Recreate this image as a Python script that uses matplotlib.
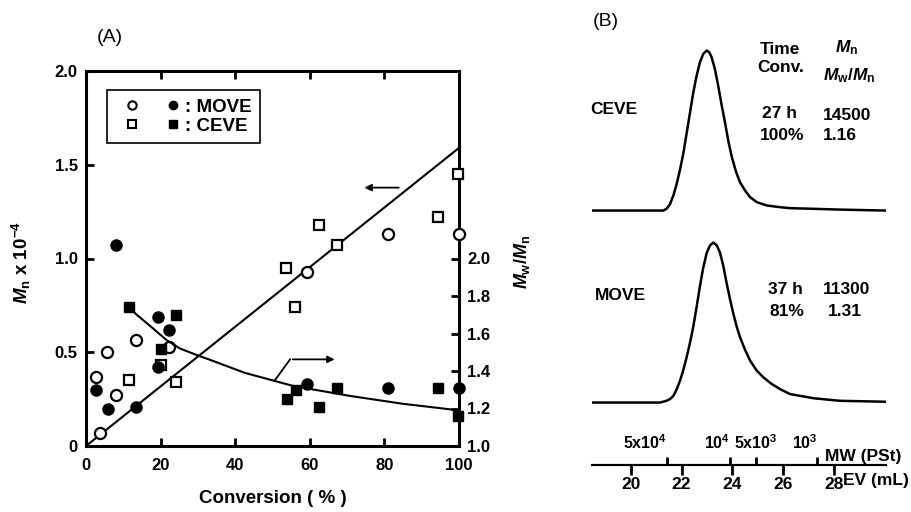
import numpy as np
import matplotlib.pyplot as plt
from matplotlib.legend_handler import HandlerTuple
from matplotlib.lines import Line2D

plt.rcParams['font.family'] = ['Liberation Sans', 'DejaVu Sans']
plt.rcParams['font.weight'] = 'bold'
plt.rcParams['axes.labelweight'] = 'bold'
plt.rcParams['mathtext.fontset'] = 'custom'
plt.rcParams['mathtext.rm'] = 'Liberation Sans:bold'
plt.rcParams['mathtext.it'] = 'Liberation Sans:italic:bold'
plt.rcParams['mathtext.bf'] = 'Liberation Sans:bold'

# ---- (A) Mn and Mw/Mn vs conversion ----
move_conv_mn = [3.7, 2.6, 5.7, 8.0, 13.3, 22.2, 59.2, 80.9, 100]
move_mn = [0.07, 0.37, 0.50, 0.27, 0.565, 0.53, 0.93, 1.13, 1.13]
ceve_conv_mn = [11.5, 20.1, 24.2, 53.6, 56.0, 62.5, 67.4, 94.5, 99.8]
ceve_mn = [0.35, 0.43, 0.34, 0.95, 0.74, 1.18, 1.07, 1.22, 1.45]

move_conv_pdi = [2.6, 5.8, 8.0, 13.3, 19.4, 19.2, 22.3, 59.3, 81.0, 100]
move_pdi = [1.30, 1.20, 2.07, 1.21, 1.69, 1.42, 1.62, 1.33, 1.31, 1.31]
ceve_conv_pdi = [11.5, 20.1, 24.0, 53.8, 56.2, 62.5, 67.4, 94.5, 99.8]
ceve_pdi = [1.74, 1.52, 1.70, 1.25, 1.30, 1.21, 1.31, 1.31, 1.16]

# calculated lines
theo_conv = [0, 100]
theo_mn = [0, 1.59]
pdi_line_conv = [11.5, 13.6, 17.2, 21.6, 25.2, 29.7, 33.2, 42.6, 55.6, 70.8, 85, 100]
pdi_line = [1.74, 1.70, 1.64, 1.565, 1.52, 1.485, 1.46, 1.39, 1.32, 1.267, 1.225, 1.19]

# arrows pointing to the axes
arrow_mn = [(84.6, 1.378), (73.9, 1.378)]
arrow_pdi = [(50.7, 1.352), (54.7, 1.462), (67.4, 1.462)]

# ---- (B) GPC traces (elution volume, normalised RI response) ----
ceve_ev = [18.47, 20.37, 21.28, 21.41, 21.54, 21.68, 21.81, 21.94, 22.07, 22.20,
           22.33, 22.46, 22.59, 22.72, 22.85, 22.99, 23.09, 23.18, 23.31, 23.44,
           23.57, 23.71, 23.84, 23.97, 24.14, 24.29, 24.49, 24.69, 24.95, 25.34,
           25.87, 26.26, 27.18, 28.22, 30.03]
ceve_int = [0, 0, 0, 0.011, 0.038, 0.095, 0.168, 0.257, 0.358, 0.484,
            0.611, 0.737, 0.842, 0.926, 0.979, 1.0, 0.989, 0.958, 0.884, 0.779,
            0.663, 0.547, 0.432, 0.337, 0.242, 0.179, 0.126, 0.084, 0.053, 0.032,
            0.021, 0.015, 0.011, 0.006, 0.0]
move_ev = [18.47, 20.37, 21.15, 21.41, 21.54, 21.68, 21.81, 21.94, 22.07, 22.20,
           22.33, 22.46, 22.59, 22.72, 22.85, 22.99, 23.12, 23.25, 23.38, 23.51,
           23.64, 23.77, 23.90, 24.03, 24.16, 24.29, 24.49, 24.69, 24.95, 25.21,
           25.54, 25.87, 26.26, 26.65, 27.18, 27.57, 28.22, 30.03]
move_int = [0, 0, 0, 0.011, 0.021, 0.042, 0.084, 0.137, 0.204, 0.284,
            0.373, 0.474, 0.596, 0.726, 0.842, 0.937, 0.983, 1.0, 0.983, 0.937,
            0.853, 0.747, 0.648, 0.558, 0.478, 0.411, 0.331, 0.263, 0.2, 0.158,
            0.116, 0.084, 0.053, 0.042, 0.027, 0.021, 0.011, 0.005]

ev_ticks = [20, 22, 24, 26, 28]
mw_ev = [21.44, 23.90, 24.92, 27.33]
mw_labels = [r'5x10$^{4}$', r'10$^{4}$', r'5x10$^{3}$', r'10$^{3}$']


def fpos(x, y):
    # pixel position in the 912x512 canvas -> figure fraction
    return x / 912, 1 - y / 512


fig = plt.figure(figsize=(9.12, 5.12), dpi=100)

ax = fig.add_axes([86 / 912, 66 / 512, 373 / 912, 375 / 512])
ax.plot(theo_conv, theo_mn, color='k', lw=1.5)
ax.plot(move_conv_mn, move_mn, 'o', mfc='white', mec='k', mew=1.6, ms=8,
        clip_on=False, zorder=3)
ax.plot(ceve_conv_mn, ceve_mn, 's', mfc='white', mec='k', mew=1.6, ms=7.5,
        clip_on=False, zorder=3)
ax.annotate('', xy=arrow_mn[1], xytext=arrow_mn[0],
            arrowprops=dict(arrowstyle='-|>', color='k', lw=1.3, mutation_scale=10))
ax.set_xlim(0, 100)
ax.set_ylim(0, 2)
ax.set_xticks([0, 20, 40, 60, 80, 100])
ax.set_yticks([0, 0.5, 1.0, 1.5, 2.0])
ax.set_yticklabels(['0', '0.5', '1.0', '1.5', '2.0'])
ax.tick_params(direction='in', length=6, width=2, labelsize=12, top=True)
ax.tick_params(axis='x', pad=9)
ax.tick_params(axis='y', pad=6)
for s in ax.spines.values():
    s.set_linewidth(2.2)
ax.set_xlabel('Conversion ( % )', fontsize=13.5, labelpad=12)
ax.set_ylabel(r'$M_{\rm n}$ x 10$^{-4}$', fontsize=13.5)
ax.yaxis.set_label_coords(-0.142, 0.49)

ax2 = ax.twinx()
for s in ax2.spines.values():
    s.set_visible(False)
ax2.plot(pdi_line_conv, pdi_line, color='k', lw=1.5)
ax2.plot(move_conv_pdi, move_pdi, 'o', color='k', ms=8, clip_on=False, zorder=3)
ax2.plot(ceve_conv_pdi, ceve_pdi, 's', color='k', ms=7.5, clip_on=False, zorder=3)
ax2.plot([p[0] for p in arrow_pdi[:2]], [p[1] for p in arrow_pdi[:2]], color='k', lw=1.3)
ax2.annotate('', xy=arrow_pdi[2], xytext=arrow_pdi[1],
             arrowprops=dict(arrowstyle='-|>', color='k', lw=1.3, mutation_scale=10))
ax2.set_ylim(1, 3)
ax2.set_yticks([1.0, 1.2, 1.4, 1.6, 1.8, 2.0])
ax2.set_yticklabels(['1.0', '1.2', '1.4', '1.6', '1.8', '2.0'])
ax2.tick_params(direction='in', length=6, width=2, labelsize=12, pad=6)
ax2.set_ylabel(r'$M_{\rm w}/M_{\rm n}$', fontsize=13, rotation=90)
ax2.yaxis.set_label_coords(1.142, 0.49)

h_oc = Line2D([], [], marker='o', ls='', mfc='white', mec='k', mew=1.5, ms=6)
h_fc = Line2D([], [], marker='o', ls='', color='k', ms=6)
h_os = Line2D([], [], marker='s', ls='', mfc='white', mec='k', mew=1.5, ms=5.5)
h_fs = Line2D([], [], marker='s', ls='', color='k', ms=5.5)
leg = ax2.legend([(h_oc, h_fc), (h_os, h_fs)], [': MOVE', ': CEVE'],
                 handler_map={tuple: HandlerTuple(ndivide=None, pad=0.32)},
                 loc='upper left', bbox_to_anchor=(0.055, 0.949), borderaxespad=0,
                 fancybox=False, edgecolor='k', framealpha=1, fontsize=13.5,
                 handlelength=4.05, handletextpad=-0.34, borderpad=0.45,
                 labelspacing=0.1)
leg.get_frame().set_linewidth(1.2)

fig.text(*fpos(109.5, 37), '(A)', ha='center', va='center', fontsize=14,
         fontweight='normal')

# ---- (B) ----
axb = fig.add_axes([591.7 / 912, 0, 294.3 / 912, 1])
axb.patch.set_visible(False)
axb.set_xlim(18.47, 30.03)
axb.set_ylim(-0.294, 2.906)
axb.plot(ceve_ev, np.array(ceve_int) + 1.59, color='k', lw=1.8,
         solid_joinstyle='round')
axb.plot(move_ev, np.array(move_int) + 0.39, color='k', lw=1.8,
         solid_joinstyle='round')
for side in ['left', 'right', 'top']:
    axb.spines[side].set_visible(False)
axb.spines['bottom'].set_position(('data', 0))
axb.spines['bottom'].set_linewidth(1.5)
axb.set_yticks([])
axb.set_xticks(ev_ticks)
axb.tick_params(axis='x', direction='out', length=7, width=2, labelsize=12.5, pad=2)

axmw = axb.twiny()
axmw.patch.set_visible(False)
axmw.set_xlim(axb.get_xlim())
for side in ['left', 'right', 'bottom']:
    axmw.spines[side].set_visible(False)
axmw.spines['top'].set_position(('data', 0))
axmw.spines['top'].set_linewidth(1.5)
axmw.set_xticks(mw_ev)
axmw.set_xticklabels(mw_labels)
axmw.tick_params(axis='x', direction='out', length=6, width=2, labelsize=11.5, pad=3)
for lbl, ha in zip(axmw.get_xticklabels(), ['right', 'right', 'center', 'right']):
    lbl.set_ha(ha)

fs_b = 12.5
fig.text(*fpos(606, 21), '(B)', ha='center', va='center', fontsize=14,
         fontweight='normal')
fig.text(*fpos(780, 49), 'Time', ha='center', va='center', fontsize=fs_b)
fig.text(*fpos(781, 67), 'Conv.', ha='center', va='center', fontsize=fs_b)
fig.text(*fpos(847, 48), r'$M_{\rm n}$', ha='center', va='center', fontsize=fs_b)
fig.text(*fpos(849, 76), r'$M_{\rm w}/M_{\rm n}$', ha='center', va='center', fontsize=fs_b)
fig.text(*fpos(590, 110), 'CEVE', ha='left', va='center', fontsize=fs_b)
fig.text(*fpos(780, 113), '27 h', ha='center', va='center', fontsize=fs_b)
fig.text(*fpos(782, 135), '100%', ha='center', va='center', fontsize=fs_b)
fig.text(*fpos(847, 115), '14500', ha='center', va='center', fontsize=fs_b)
fig.text(*fpos(840, 136), '1.16', ha='center', va='center', fontsize=fs_b)
fig.text(*fpos(595, 296), 'MOVE', ha='left', va='center', fontsize=fs_b)
fig.text(*fpos(785, 290), '37 h', ha='center', va='center', fontsize=fs_b)
fig.text(*fpos(787, 311), '81%', ha='center', va='center', fontsize=fs_b)
fig.text(*fpos(847, 290), '11300', ha='center', va='center', fontsize=fs_b)
fig.text(*fpos(845, 311), '1.31', ha='center', va='center', fontsize=fs_b)
fig.text(*fpos(825, 456), 'MW (PSt)', ha='left', va='center', fontsize=fs_b)
fig.text(*fpos(843, 480), 'EV (mL)', ha='left', va='center', fontsize=fs_b)

fig.savefig('out.png', dpi=100)
